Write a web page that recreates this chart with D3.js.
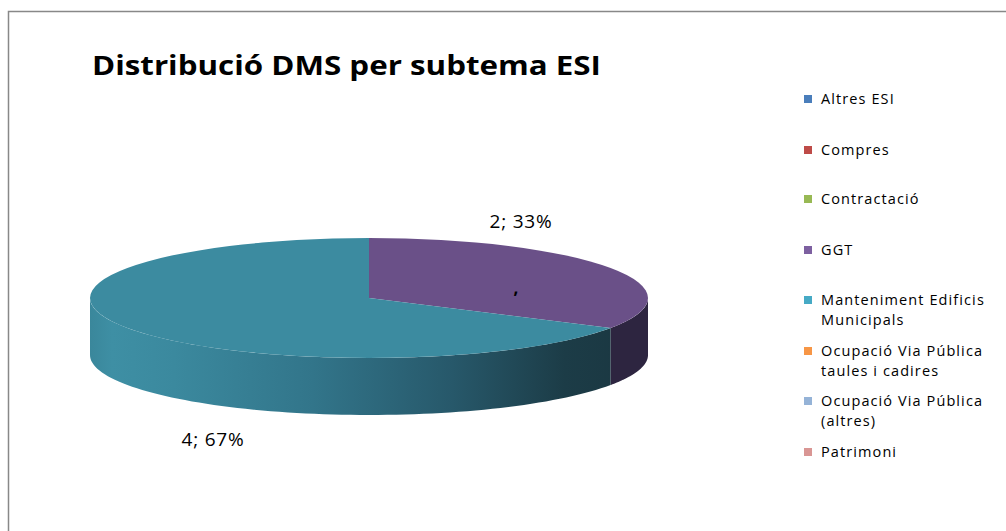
<!DOCTYPE html>
<html>
<head>
<meta charset="utf-8">
<script src="https://cdn.jsdelivr.net/npm/d3@7"></script>
<style>
  body { margin: 0; background: #fff; }
  text { font-family: "Open Sans", sans-serif; fill: #000; }
</style>
</head>
<body>
<div class="chart"></div>
<script>
var categories = [
  "Altres ESI", "Compres", "Contractació", "GGT",
  "Manteniment Edificis Municipals", "Ocupació Via Pública taules i cadires",
  "Ocupació Via Pública (altres)", "Patrimoni"
];
var legendLines = [
  ["Altres ESI"], ["Compres"], ["Contractació"], ["GGT"],
  ["Manteniment Edificis", "Municipals"], ["Ocupació Via Pública", "taules i cadires"],
  ["Ocupació Via Pública", "(altres)"], ["Patrimoni"]
];
var values = [0, 0, 0, 2, 4, 0, 0, 0];
var colors = ["#4a7ebb", "#be4b48", "#98b954", "#7d60a0", "#46aac5", "#f79646", "#95b3d7", "#d99694"];
var topColors = ["#4a7ebb", "#be4b48", "#98b954", "#6a5088", "#3c8ba0", "#f79646", "#95b3d7", "#d99694"];
var title = "Distribució DMS per subtema ESI";

var width = 1006, height = 531;
var cx = 369, cy = 298, rx = 279, ry = 60, depth = 57;

var svg = d3.select(".chart").append("svg")
  .attr("width", width).attr("height", height);

// frame
svg.append("rect")
  .attr("x", 8.5).attr("y", 11.5)
  .attr("width", 1200).attr("height", 700)
  .attr("fill", "none").attr("stroke", "#888").attr("stroke-width", 1.5);

svg.append("text")
  .attr("x", 92).attr("y", 75)
  .attr("font-size", 26).attr("font-weight", "bold")
  .attr("textLength", 509).attr("lengthAdjust", "spacingAndGlyphs")
  .text(title);

var total = d3.sum(values);
var pie = d3.pie().sort(null).value(function (d) { return d; });
var arcs = pie(values);

function pt(a, dy) {
  return [cx + rx * Math.sin(a), cy - ry * Math.cos(a) + (dy || 0)];
}

// gradients for side walls
var defs = svg.append("defs");
var gTeal = defs.append("linearGradient").attr("id", "sideTeal")
  .attr("gradientUnits", "userSpaceOnUse")
  .attr("x1", cx - rx).attr("x2", cx + rx).attr("y1", 0).attr("y2", 0);
[[0, "#3a879b"], [0.04, "#3e8fa4"], [0.15, "#3b899e"], [0.4, "#32758a"],
 [0.65, "#27586a"], [0.85, "#1c3c47"], [1, "#1a3640"]].forEach(function (s) {
  gTeal.append("stop").attr("offset", s[0]).attr("stop-color", s[1]);
});
var sideFill = { 3: "#2d2540", 4: "url(#sideTeal)" };

var line = d3.line();

// outer side walls (front half only)
arcs.forEach(function (d, i) {
  var a0 = Math.max(d.startAngle, Math.PI / 2);
  var a1 = Math.min(d.endAngle, 3 * Math.PI / 2);
  if (a1 <= a0) return;
  var n = 80, top = [], bot = [];
  for (var k = 0; k <= n; k++) {
    var a = a0 + (a1 - a0) * k / n;
    top.push(pt(a));
    bot.push(pt(a, depth));
  }
  svg.append("path")
    .attr("d", line(top.concat(bot.reverse())) + "Z")
    .attr("fill", sideFill[i] || colors[i]);
});

// top faces
arcs.forEach(function (d, i) {
  if (d.endAngle - d.startAngle <= 0) return;
  var p0 = pt(d.startAngle), p1 = pt(d.endAngle);
  var large = d.endAngle - d.startAngle > Math.PI ? 1 : 0;
  svg.append("path")
    .attr("d", "M" + cx + "," + cy + "L" + p0 + "A" + rx + "," + ry + " 0 " + large + " 1 " + p1 + "Z")
    .attr("fill", topColors[i]);
});

// data labels
var labelPos = { 3: [521, 228], 4: [213, 446] };
arcs.forEach(function (d, i) {
  if (!values[i]) return;
  svg.append("text")
    .attr("x", labelPos[i][0]).attr("y", labelPos[i][1])
    .attr("text-anchor", "middle").attr("font-size", 19)
    .attr("letter-spacing", 0.8)
    .text(values[i] + "; " + Math.round(values[i] / total * 100) + "%");
});
svg.append("text").attr("x", 516).attr("y", 294)
  .attr("text-anchor", "middle").attr("font-size", 17).attr("font-weight", "bold").text(",");

// legend
var legendY = [99, 150, 199, 250, 300, 351, 401, 452];
var legend = svg.selectAll(".leg").data(categories).enter().append("g")
  .attr("class", "leg")
  .attr("transform", function (d, i) { return "translate(804," + legendY[i] + ")"; });
legend.append("rect")
  .attr("x", 0).attr("y", -4).attr("width", 8).attr("height", 8)
  .attr("fill", function (d, i) { return colors[i]; });
legend.append("text")
  .attr("x", 17).attr("y", 5)
  .attr("font-size", 14.5).attr("letter-spacing", 1.1)
  .selectAll("tspan")
  .data(function (d, i) { return legendLines[i]; })
  .enter().append("tspan")
  .attr("x", 17).attr("dy", function (d, j) { return j ? 20 : 0; })
  .text(function (d) { return d; });
</script>
</body>
</html>
